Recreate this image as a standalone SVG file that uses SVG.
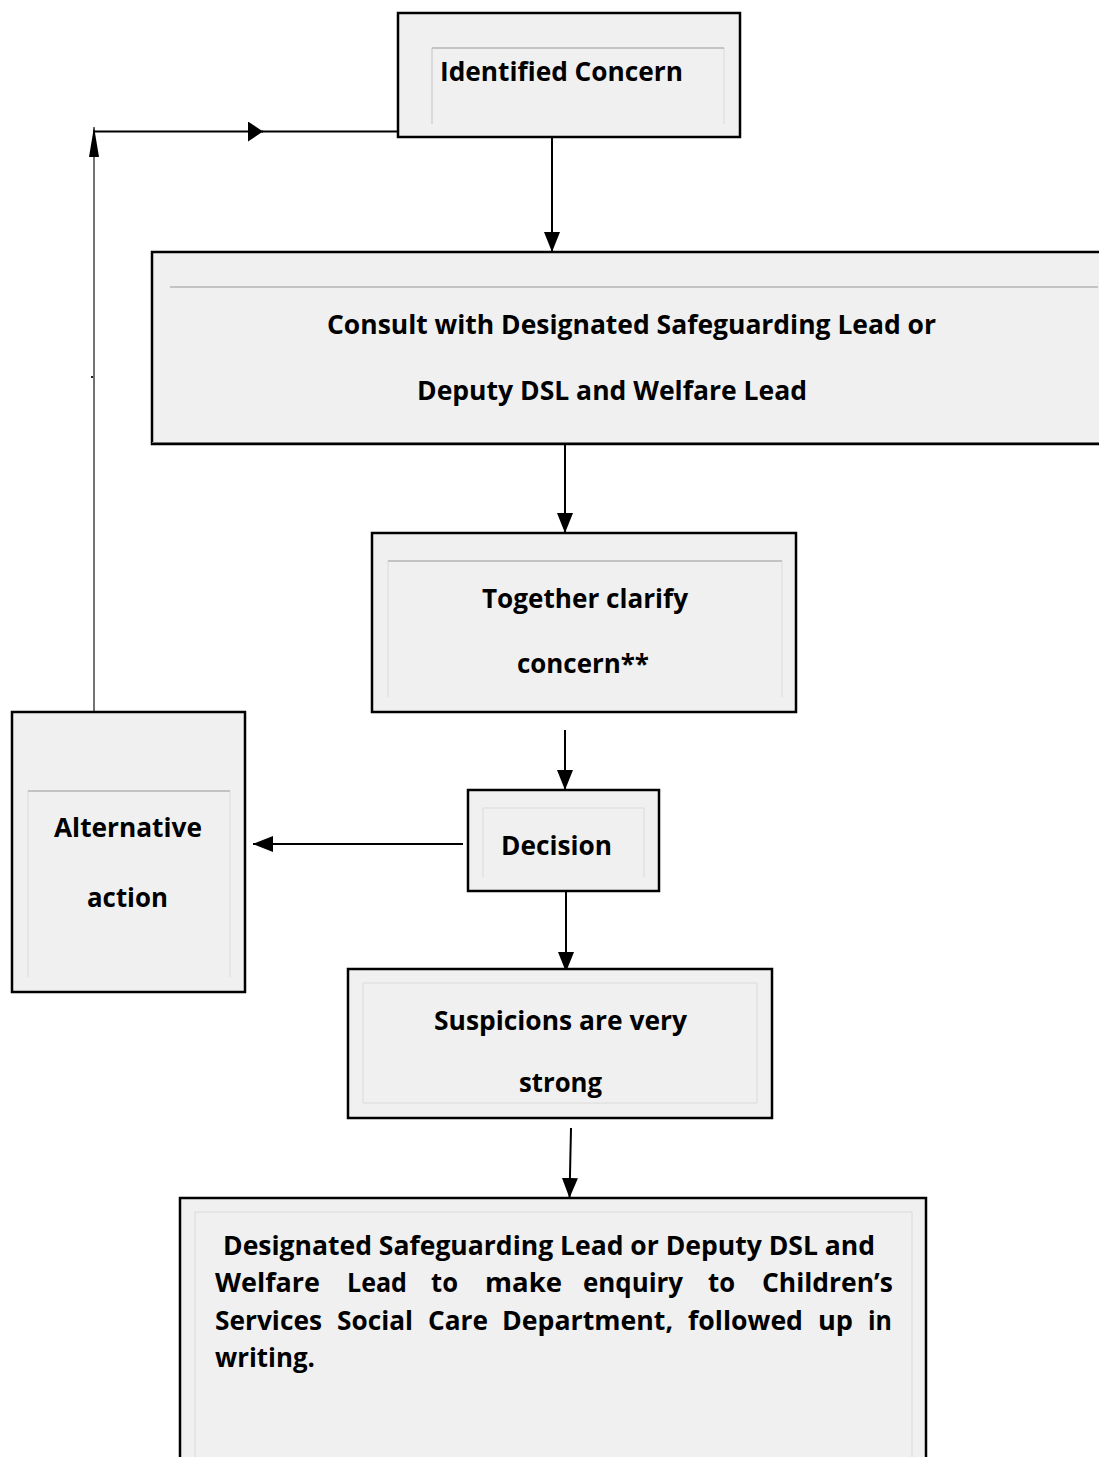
<svg xmlns="http://www.w3.org/2000/svg" width="1099" height="1457" viewBox="0 0 1099 1457">
<style>
.box{fill:#f0f0f0;stroke:#000;stroke-width:2.5}
.itop{stroke:#b4b4b4;stroke-width:1.5;fill:none}
.iside{stroke:#dadada;stroke-width:1;fill:none}
.t{font-family:"Open Sans","Lato","Liberation Sans",sans-serif;font-weight:700;font-size:27px;fill:#000}
.c{stroke:#000;stroke-width:2;fill:none}
.loop{stroke:#444;stroke-width:1.5;fill:none}
</style>
<defs>
<marker id="arrow" viewBox="0 0 20 16" markerWidth="20" markerHeight="16" refX="20" refY="8" orient="auto" markerUnits="userSpaceOnUse"><path d="M0,0 L20,8 L0,16 z" fill="#000"/></marker>
<marker id="arrowUp" viewBox="0 0 30 10" markerWidth="30" markerHeight="10" refX="30" refY="5" orient="auto" markerUnits="userSpaceOnUse"><path d="M0,0 L30,5 L0,10 z" fill="#000"/></marker>
<marker id="arrowMid" viewBox="0 0 15 20" markerWidth="15" markerHeight="20" refX="15" refY="10" orient="auto" markerUnits="userSpaceOnUse"><path d="M0,0 L15,10 L0,20 z" fill="#000"/></marker>
</defs>
<rect width="1099" height="1457" fill="#fff"/>

<g id="connectors">
<line class="loop" x1="94" y1="712" x2="94" y2="127" marker-end="url(#arrowUp)"/>
<line class="c" x1="93" y1="131.5" x2="263" y2="131.5" marker-end="url(#arrowMid)"/>
<line class="c" x1="262" y1="131.5" x2="398" y2="131.5"/>
<line class="c" x1="552" y1="137" x2="552" y2="252" marker-end="url(#arrow)"/>
<line class="c" x1="565" y1="438" x2="565" y2="533" marker-end="url(#arrow)"/>
<line class="c" x1="565" y1="730" x2="565" y2="790" marker-end="url(#arrow)"/>
<line class="c" x1="566" y1="892" x2="566" y2="972" marker-end="url(#arrow)"/>
<line class="c" x1="571" y1="1128" x2="569.5" y2="1198" marker-end="url(#arrow)"/>
<line class="c" x1="463" y1="844" x2="253" y2="844" marker-end="url(#arrow)"/>
<rect x="91" y="376" width="2" height="2" fill="#222"/>
</g>

<g id="identified-concern">
<rect class="box" x="398" y="13" width="342" height="124"/>
<line class="iside" x1="432" y1="48" x2="432" y2="124" style="stroke:#c4c4c4"/>
<line class="iside" x1="724" y1="48" x2="724" y2="124"/>
<line class="itop" x1="432" y1="48" x2="724" y2="48"/>
<text class="t" x="440" y="81" textLength="243" lengthAdjust="spacingAndGlyphs">Identified Concern</text>
</g>

<g id="consult">
<rect class="box" x="152" y="252" width="960" height="192"/>
<line class="itop" x1="170" y1="287" x2="1098" y2="287"/>
<line x1="152" y1="442.5" x2="1099" y2="442.5" stroke="#777" stroke-width="1"/>
<text class="t" x="327" y="334" textLength="609" lengthAdjust="spacingAndGlyphs">Consult with Designated Safeguarding Lead or</text>
<text class="t" x="417" y="400" textLength="390" lengthAdjust="spacingAndGlyphs">Deputy DSL and Welfare Lead</text>
</g>

<g id="clarify">
<rect class="box" x="372" y="533" width="424" height="179"/>
<line class="iside" x1="388" y1="561" x2="388" y2="697"/>
<line class="iside" x1="782" y1="561" x2="782" y2="697"/>
<line class="itop" x1="388" y1="561" x2="782" y2="561"/>
<text class="t" x="482" y="608" textLength="206" lengthAdjust="spacingAndGlyphs">Together clarify</text>
<text class="t" x="517" y="673" textLength="132" lengthAdjust="spacingAndGlyphs">concern**</text>
</g>

<g id="decision">
<rect class="box" x="468" y="790" width="191" height="101"/>
<line class="iside" x1="483" y1="808" x2="483" y2="877"/>
<line class="iside" x1="644" y1="808" x2="644" y2="877"/>
<line class="iside" x1="483" y1="808" x2="644" y2="808"/>
<text class="t" x="501" y="855" textLength="111" lengthAdjust="spacingAndGlyphs">Decision</text>
</g>

<g id="alternative-action">
<rect class="box" x="12" y="712" width="233" height="280"/>
<line class="iside" x1="28" y1="791" x2="28" y2="977"/>
<line class="iside" x1="230" y1="791" x2="230" y2="977"/>
<line class="itop" x1="28" y1="791" x2="230" y2="791"/>
<text class="t" x="54" y="837" textLength="148" lengthAdjust="spacingAndGlyphs">Alternative</text>
<text class="t" x="87" y="907" textLength="81" lengthAdjust="spacingAndGlyphs">action</text>
</g>

<g id="suspicions">
<rect class="box" x="348" y="969" width="424" height="149"/>
<line class="iside" x1="363" y1="983" x2="363" y2="1103"/>
<line class="iside" x1="757" y1="983" x2="757" y2="1103"/>
<line class="iside" x1="363" y1="983" x2="757" y2="983"/>
<line class="iside" x1="363" y1="1103" x2="757" y2="1103"/>
<text class="t" x="434" y="1030" textLength="253" lengthAdjust="spacingAndGlyphs">Suspicions are very</text>
<text class="t" x="519" y="1092" textLength="83" lengthAdjust="spacingAndGlyphs">strong</text>
</g>

<g id="enquiry">
<rect class="box" x="180" y="1198" width="746" height="280"/>
<line class="iside" x1="195" y1="1212" x2="195" y2="1457"/>
<line class="iside" x1="912" y1="1212" x2="912" y2="1457"/>
<line class="iside" x1="195" y1="1212" x2="912" y2="1212"/>
<text class="t" x="223" y="1255" textLength="652" lengthAdjust="spacingAndGlyphs">Designated Safeguarding Lead or Deputy DSL and</text>
<text class="t" y="1292"><tspan x="215" textLength="105" lengthAdjust="spacingAndGlyphs">Welfare</tspan> <tspan x="347" textLength="60" lengthAdjust="spacingAndGlyphs">Lead</tspan> <tspan x="431" textLength="27" lengthAdjust="spacingAndGlyphs">to</tspan> <tspan x="485" textLength="77" lengthAdjust="spacingAndGlyphs">make</tspan> <tspan x="583" textLength="100" lengthAdjust="spacingAndGlyphs">enquiry</tspan> <tspan x="708" textLength="27" lengthAdjust="spacingAndGlyphs">to</tspan> <tspan x="762" textLength="131" lengthAdjust="spacingAndGlyphs">Children’s</tspan></text>
<text class="t" y="1330"><tspan x="215" textLength="107" lengthAdjust="spacingAndGlyphs">Services</tspan> <tspan x="337" textLength="76" lengthAdjust="spacingAndGlyphs">Social</tspan> <tspan x="428" textLength="60" lengthAdjust="spacingAndGlyphs">Care</tspan> <tspan x="502" textLength="171" lengthAdjust="spacingAndGlyphs">Department,</tspan> <tspan x="688" textLength="115" lengthAdjust="spacingAndGlyphs">followed</tspan> <tspan x="818" textLength="35" lengthAdjust="spacingAndGlyphs">up</tspan> <tspan x="868" textLength="24" lengthAdjust="spacingAndGlyphs">in</tspan></text>
<text class="t" x="215" y="1367" textLength="100" lengthAdjust="spacingAndGlyphs">writing.</text>
</g>
</svg>
